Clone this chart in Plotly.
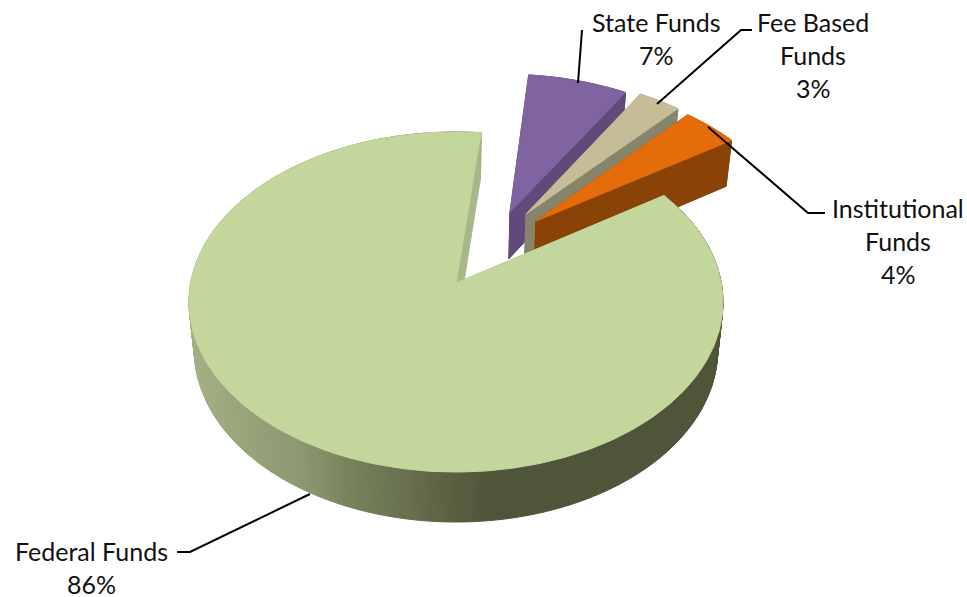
import numpy as np
import plotly.graph_objects as go

# Chart data, in drawing order (clockwise from the start angle)
categories = ["State Funds", "Fee Based Funds", "Institutional Funds", "Federal Funds"]
shares = [7, 3, 4, 86]

# Wrapped label lines per category
label_lines = [["State Funds"], ["Fee Based", "Funds"], ["Institutional", "Funds"], ["Federal Funds"]]

# Styling per category
top_colors = ["#8064a2", "#c4bd97", "#e46c0a", "#c3d69b"]
side_colors = ["#604a7b", "#87846c", "#8a4306", "#4f5539"]
cut_colors = ["#604a7b", "#87846c", "#8a4306", "#a8b78a"]

# Explosion of each slice in the pie's own plane, in radii
pulls = [(0.2136, 0.444), (0.2766, 0.4307), (0.3145, 0.385), (0.0, 0.0)]

# Label placement: centre x and first line y, leader polyline in page pixels
label_pos = [(656, 21.5), (813, 21.5), (898, 207.5), (91, 551)]
leaders = [
    [(582, 30), (578, 83)],
    [(752, 30), (741, 30), (657, 104)],
    [(708, 127), (808, 213), (825, 213)],
    [(310, 494), (190, 552), (177, 552)],
]
LINE_STEP = 33

# Projection of the tilted disc onto the page
APEX_X, APEX_Y = 456, 283
SCALE_X, SCALE_Y = 265.3, 167.9
PERSPECTIVE = 0.1118
START_ANGLE = 84.0
DEPTH = 47.7
DEPTH_SLOPE = 0.012
BASE_SHRINK = 0.98

# Shading along the front of the largest slice, as page x to colour
gradient_x = [190, 300, 350, 470, 490, 725]
gradient_rgb = [(163, 176, 132), (139, 152, 112), (118, 130, 90), (86, 90, 62), (79, 85, 57), (79, 85, 57)]


def project(x, y):
    w = 1 + PERSPECTIVE * y
    return SCALE_X * x / w, SCALE_Y * y / w


def top_point(theta, pull, radius=1.0):
    x = radius * np.cos(theta) + pull[0]
    y = radius * np.sin(theta) + pull[1]
    return project(x, y)


def base_point(px, py):
    return px * BASE_SHRINK, py * (1 + DEPTH_SLOPE) - DEPTH


def page(pts):
    return [APEX_X + p[0] for p in pts], [APEX_Y - p[1] for p in pts]


fig = go.Figure()


def add_poly(pts, color):
    xs, ys = page(pts)
    fig.add_trace(go.Scatter(
        x=xs + xs[:1], y=ys + ys[:1], mode="lines", fill="toself",
        fillcolor=color, line=dict(color=color, width=1),
        hoverinfo="skip", showlegend=False,
    ))


def shade(px):
    x = APEX_X + px
    rgb = [np.interp(x, gradient_x, [c[i] for c in gradient_rgb]) for i in range(3)]
    return "rgb(%d,%d,%d)" % tuple(int(round(v)) for v in rgb)


start = START_ANGLE
for i, share in enumerate(shares):
    sweep = share * 3.6
    angles = np.radians(np.linspace(start, start - sweep, max(8, int(sweep / 0.75))))
    start -= sweep
    pull = pulls[i]
    rim = [top_point(t, pull) for t in angles]
    apex = project(*pull)

    # Outer wall, split into short pieces so it can carry a shade
    for a, b in zip(rim[:-1], rim[1:]):
        color = shade((a[0] + b[0]) / 2) if i == 3 else side_colors[i]
        add_poly([a, b, base_point(*b), base_point(*a)], color)

    # Cut faces from the centre to each end of the rim
    for end in (rim[0], rim[-1]):
        add_poly([apex, end, base_point(*end), base_point(*apex)], cut_colors[i])

    # Top face
    add_poly([apex] + rim, top_colors[i])

# Leader lines
for path in leaders:
    fig.add_trace(go.Scatter(
        x=[p[0] for p in path], y=[p[1] for p in path], mode="lines",
        line=dict(color="black", width=2), hoverinfo="skip", showlegend=False,
    ))

# Labels: one annotation per text line
font = dict(family="Lato, Carlito, sans-serif", size=25, color="#111111")
for lines, share, (cx, cy) in zip(label_lines, shares, label_pos):
    for k, text in enumerate(lines + [f"{share}%"]):
        fig.add_annotation(x=cx, y=cy + k * LINE_STEP, text=text, showarrow=False,
                           xanchor="center", yanchor="middle", font=font)

fig.update_layout(
    width=967, height=597, margin=dict(l=0, r=0, t=0, b=0),
    paper_bgcolor="white", plot_bgcolor="white", showlegend=False,
    xaxis=dict(range=[0, 967], visible=False, fixedrange=True),
    yaxis=dict(range=[597, 0], visible=False, fixedrange=True),
)

fig.write_html("out.html", config=dict(displayModeBar=False))
